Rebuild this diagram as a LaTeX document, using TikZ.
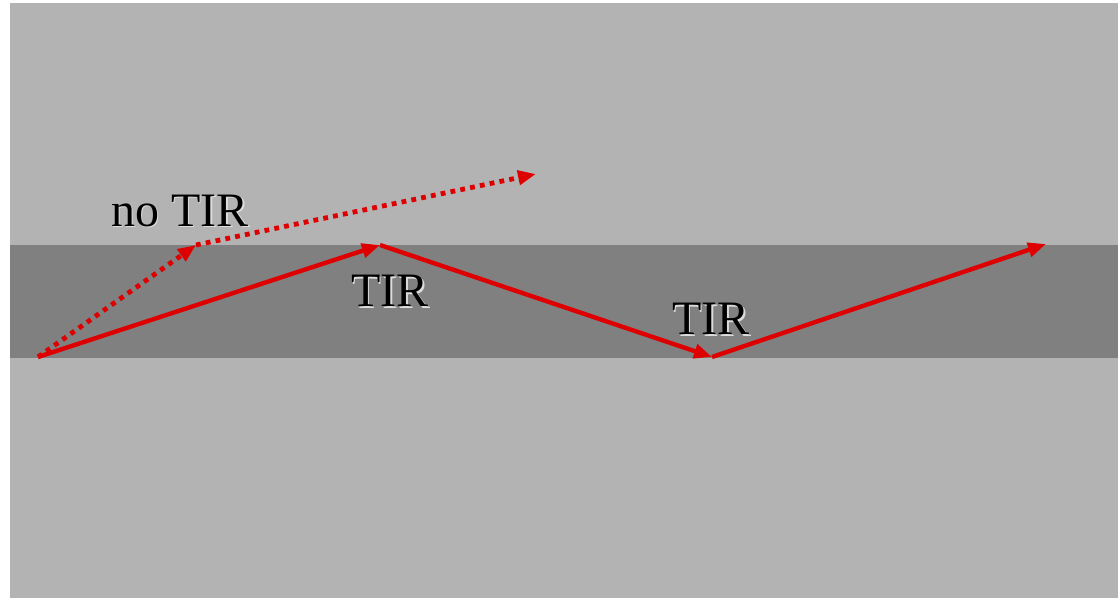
\documentclass[tikz,border=0pt]{standalone}
\usepackage{fontspec}
\setmainfont{Liberation Serif}
\usetikzlibrary{arrows.meta}
\definecolor{lightbg}{RGB}{179,179,179}
\definecolor{band}{RGB}{128,128,128}
\definecolor{ray}{RGB}{222,0,0}
\definecolor{shade}{RGB}{220,220,220}
\tikzset{
  raysolid/.style={draw=ray, line width=2.2pt, -{Triangle[length=9pt,width=7pt]}},
  raydot/.style={draw=ray, line width=2.4pt, dash pattern=on 2.4pt off 2.6pt, -{Triangle[length=9pt,width=7pt]}},
  lbl/.style={font=\fontsize{24}{28}\selectfont, text=black, inner sep=0pt},
  lblshadow/.style={font=\fontsize{24}{28}\selectfont, text=shade, inner sep=0pt},
}
\begin{document}
\begin{tikzpicture}[x=0.5pt,y=-0.5pt]
\useasboundingbox (0,0) rectangle (1118,598);
\fill[white] (0,0) rectangle (1118,598);
\fill[lightbg] (10,3) rectangle (1118,598);
\fill[band] (10,245) rectangle (1118,358);
\coordinate (s) at (38,357);
\coordinate (r1) at (380,245);
\coordinate (r2) at (712,357);
\coordinate (e) at (1046,244);
\coordinate (d1) at (196,245);
\coordinate (d2) at (536,174);
\draw[raysolid] (s) -- (r1);
\draw[raysolid] (r1) -- (r2);
\draw[raysolid] (r2) -- (e);
\draw[raydot] (s) -- (d1);
\draw[raydot] (d1) -- (d2);
\node[lblshadow] at (181.5,212.5) {no TIR};
\node[lbl] (l0) at (180,211) {no TIR};
\node[lblshadow] at (391.5,292.5) {TIR};
\node[lbl] (l1) at (390,291) {TIR};
\node[lblshadow] at (712.5,320.5) {TIR};
\node[lbl] (l2) at (711,319) {TIR};
\end{tikzpicture}
\end{document}
